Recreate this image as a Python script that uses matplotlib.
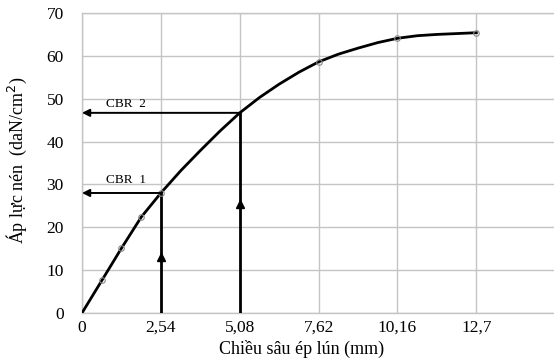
import matplotlib
matplotlib.use("Agg")
import matplotlib.pyplot as plt

# ---------------- DATA ----------------
# curve (penetration mm -> pressure daN/cm2)
curve_x = [0, 0.64, 1.27, 1.91, 2.54, 3.18, 3.81, 4.45, 5.08, 5.72, 6.35,
           6.99, 7.62, 8.26, 8.89, 9.53, 10.16, 10.80, 11.43, 12.07, 12.7]
curve_y = [0, 7.6, 15.1, 22.4, 28.0, 33.2, 37.9, 42.5, 46.7, 50.3, 53.4,
           56.2, 58.6, 60.4, 61.8, 63.1, 64.1, 64.7, 65.0, 65.2, 65.4]

# measured points (small open circles)
meas_x = [0.64, 1.27, 1.91, 2.54, 7.62, 10.16, 12.7]
meas_y = [7.6, 15.1, 22.4, 28.0, 58.6, 64.1, 65.4]

# CBR readings
cbr_names = ["CBR 1", "CBR 2"]
cbr_x = [2.54, 5.08]
cbr_y = [28.0, 46.7]
cbr_label_y = [31.0, 48.8]
cbr_up_arrow_y = [13.0, 25.4]

x_ticks = [0, 2.54, 5.08, 7.62, 10.16, 12.7]
x_tick_labels = ["0", "2,54", "5,08", "7,62", "10,16", "12,7"]
y_ticks = [0, 10, 20, 30, 40, 50, 60, 70]

# ---------------- PLOT ----------------
plt.rcParams['font.family'] = ['Liberation Serif', 'DejaVu Serif']

fig = plt.figure(figsize=(5.54, 3.6), dpi=100)
ax = fig.add_axes([0.148, 0.1306, 0.852, 0.8333])

grid_col = "#c4c4c4"
ax.set_xlim(0, 15.2)
ax.set_ylim(0, 70)
ax.set_xticks(x_ticks)
ax.set_xticklabels(x_tick_labels)
ax.set_yticks(y_ticks)
ax.tick_params(length=0, labelsize=12.5)
ax.tick_params(axis='y', pad=13)
ax.tick_params(axis='x', pad=5)
ax.grid(True, color=grid_col, lw=1)
ax.set_axisbelow(True)
for s in ["left", "bottom", "top"]:
    ax.spines[s].set_color(grid_col)
    ax.spines[s].set_linewidth(1)
ax.spines["right"].set_visible(False)

# main curve
ax.plot(curve_x, curve_y, color="black", lw=2, zorder=3)
ax.plot(meas_x, meas_y, ls="none", marker="o", ms=4, mfc="none",
        mec="#8a8a8a", mew=0.8, zorder=4)

# CBR construction lines
for name, cx, cy, ly, ay in zip(cbr_names, cbr_x, cbr_y, cbr_label_y, cbr_up_arrow_y):
    ax.plot([cx, cx], [0, cy], color="black", lw=2, zorder=3)
    ax.plot([cx], [ay], marker="^", ms=6, color="black", zorder=4)
    ax.annotate("", xy=(0, cy), xytext=(cx, cy), annotation_clip=False,
                arrowprops=dict(arrowstyle="-|>", color="black", lw=1.4,
                                mutation_scale=11, shrinkA=0, shrinkB=0),
                zorder=4)
    ax.text(0.78, ly, name.replace(" ", "  "), fontsize=9.5, ha="left", va="center")

fig.text(302 / 554, 0.031, "Chiều sâu ép lún (mm)", fontsize=13,
         ha="center", va="center")
fig.text(17 / 554, 0.556, "Áp lực nén  (daN/cm$^2$)", fontsize=13,
         ha="center", va="center", rotation=90)

fig.savefig("out.png", dpi=100)
